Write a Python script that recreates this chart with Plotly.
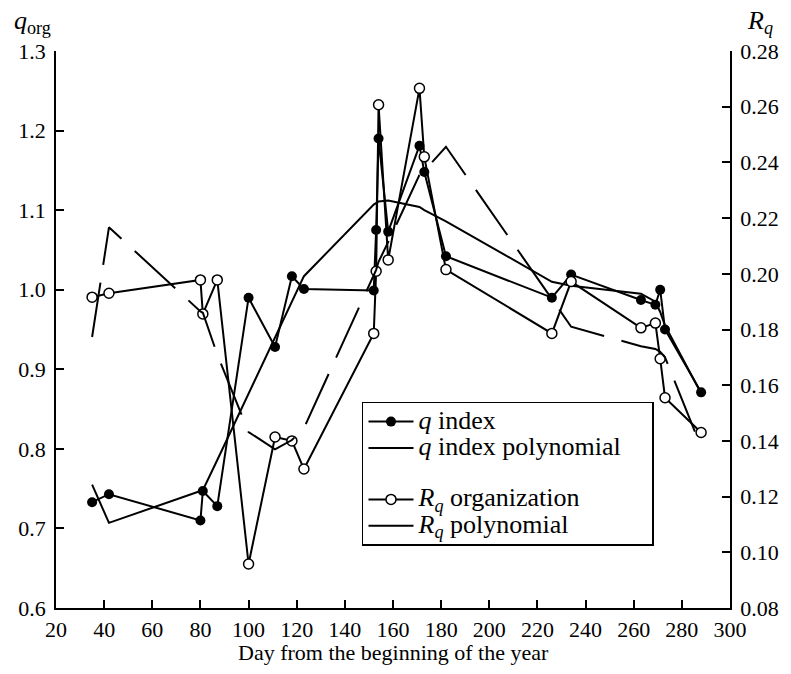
import plotly.graph_objects as go

# ---- data ----
days = [35, 42, 80, 81, 87, 100, 111, 118, 123, 152, 153, 154, 158,
        171, 173, 182, 226, 234, 263, 269, 271, 273, 288]

q_index = [0.733, 0.743, 0.710, 0.747, 0.728, 0.990, 0.928, 1.017, 1.001,
           0.999, 1.075, 1.190, 1.073, 1.181, 1.148, 1.042, 0.990, 1.019,
           0.987, 0.981, 1.000, 0.950, 0.871]

q_poly = [0.755, 0.707, 0.747, 0.748, 0.786, 0.870, 0.940, 0.985, 1.017,
          1.107, 1.109, 1.111, 1.112, 1.104, 1.100, 1.086, 1.010, 1.005,
          0.995, 0.985, 0.972, 0.955, 0.870]

rq_org = [0.1916, 0.1930, 0.1978, 0.1856, 0.1978, 0.0958, 0.1414, 0.1400,
          0.1299, 0.1786, 0.2009, 0.2607, 0.2050, 0.2666, 0.2420, 0.2015,
          0.1786, 0.1972, 0.1806, 0.1823, 0.1695, 0.1555, 0.1430]

rq_poly = [0.1773, 0.2167, 0.1865, 0.1860, 0.1710, 0.1432, 0.1370, 0.1403,
           0.1446, 0.1992, 0.2014, 0.2043, 0.2114, 0.2355, 0.2370, 0.2456,
           0.1910, 0.1810, 0.1740, 0.1730, 0.1720, 0.1700, 0.1378]

x_ticks = list(range(20, 301, 20))
FONT = "Liberation Serif, Times New Roman, DejaVu Serif, serif"


def big(s):
    return '<span style="font-size:26px">' + s + '</span>'


fig = go.Figure()

fig.add_trace(go.Scatter(
    x=days, y=q_index, mode="lines+markers", name=big("<i>q</i> index"),
    line=dict(color="black", width=2),
    marker=dict(symbol="circle", size=10, color="black"),
    legendgroup="q", yaxis="y"))

fig.add_trace(go.Scatter(
    x=days, y=q_poly, mode="lines",
    name=big("<i>q</i> index polynomial&nbsp;&nbsp;&nbsp;&nbsp;"),
    line=dict(color="black", width=2),
    legendgroup="q", yaxis="y"))

fig.add_trace(go.Scatter(
    x=days, y=rq_org, mode="lines+markers",
    name=big("<i>R</i><sub><i>q</i></sub> organization"),
    line=dict(color="black", width=2),
    marker=dict(symbol="circle", size=10, color="white",
                line=dict(color="black", width=1.5)),
    legendgroup="r", yaxis="y2"))

fig.add_trace(go.Scatter(
    x=days, y=rq_poly, mode="lines",
    name=big("<i>R</i><sub><i>q</i></sub> polynomial"),
    line=dict(color="black", width=2, dash="55px,18px"),
    legendgroup="r", yaxis="y2"))

axis_common = dict(
    showline=True, linecolor="black", linewidth=1.5,
    ticks="inside", ticklen=8, tickwidth=1.5, tickcolor="black",
    showgrid=False, zeroline=False, automargin=False,
    tickfont=dict(family=FONT, size=22, color="black"),
)

fig.update_layout(
    width=791, height=674,
    margin=dict(l=56, r=61, t=51, b=66),
    paper_bgcolor="white", plot_bgcolor="white",
    font=dict(family=FONT, size=22, color="black"),
    showlegend=True,
    legend=dict(
        x=0.454, y=0.37, xanchor="left", yanchor="top",
        bordercolor="black", borderwidth=1.5, bgcolor="white",
        font=dict(family=FONT, size=18, color="black"),
        traceorder="grouped", tracegroupgap=25, itemwidth=45,
    ),
    xaxis=dict(
        range=[20, 300], tickvals=x_ticks,
        ticklabelstandoff=1,
        **axis_common),
    yaxis=dict(
        range=[0.6, 1.3], dtick=0.1, tick0=0.6, tickformat=".1f",
        ticklabelstandoff=4,
        **axis_common),
    yaxis2=dict(
        range=[0.08, 0.28], dtick=0.02, tick0=0.08, tickformat=".2f",
        overlaying="y", side="right", ticklabelstandoff=4,
        **axis_common),
    annotations=[
        dict(text="Day from the beginning of the year", xref="paper",
             yref="paper", x=0.5, y=-0.079, xanchor="center",
             yanchor="middle", showarrow=False,
             font=dict(family=FONT, size=22)),
        dict(text="<i>q</i><sub>org</sub>", xref="paper", yref="paper",
             x=-0.065, y=1.052, xanchor="left", yanchor="middle",
             showarrow=False, font=dict(family=FONT, size=26)),
        dict(text="<i>R</i><sub><i>q</i></sub>", xref="paper", yref="paper",
             x=1.022, y=1.052, xanchor="left", yanchor="middle",
             showarrow=False, font=dict(family=FONT, size=26)),
    ],
)

fig.write_html("out.html",
               config={"displayModeBar": False},
               post_script="document.body.style.margin='0px';")
